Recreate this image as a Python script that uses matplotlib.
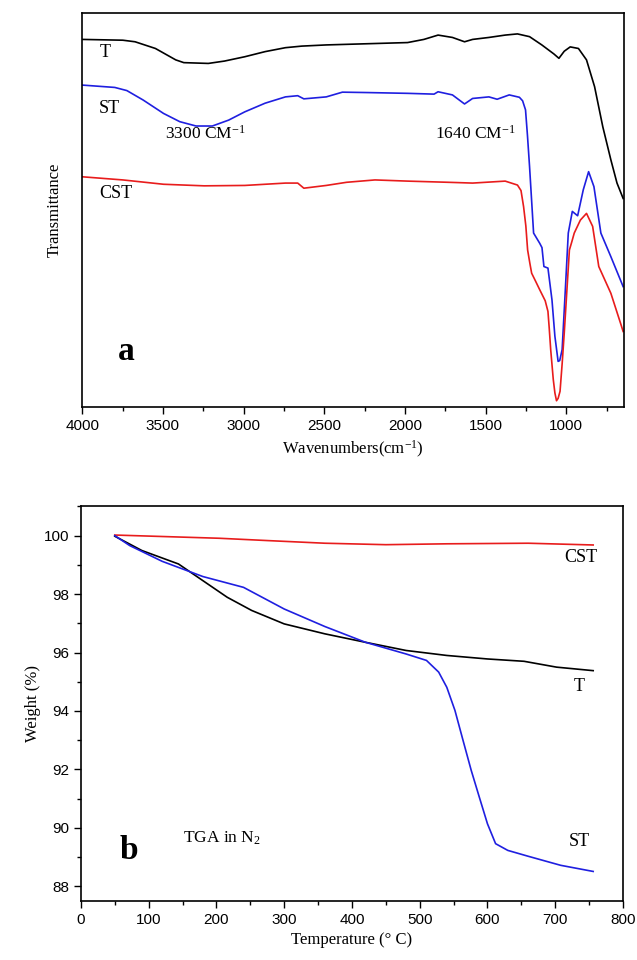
import matplotlib
matplotlib.use('Agg')
import matplotlib.pyplot as plt
from matplotlib.ticker import MultipleLocator

# ---- FTIR data (panel a), transmittance in arbitrary units ----
t_wn = [4000, 3748, 3672, 3546, 3420, 3370, 3218, 3118, 2992, 2866, 2740, 2639, 2487, 2235,
        1983, 1882, 1794, 1705, 1630, 1580, 1479, 1378, 1302, 1227, 1151, 1076, 1045, 1012,
        975, 924, 874, 824, 773, 723, 685, 647]
t_tr = [93.4, 93.2, 92.8, 91.1, 88.2, 87.5, 87.3, 87.9, 89.0, 90.3, 91.3, 91.7, 92.0, 92.3,
        92.6, 93.4, 94.5, 93.9, 92.8, 93.4, 93.9, 94.5, 94.8, 94.1, 92.0, 89.7, 88.6, 90.4,
        91.5, 91.1, 88.2, 81.4, 71.2, 62.8, 56.9, 53.0]

st_wn = [4000, 3798, 3723, 3622, 3496, 3395, 3294, 3193, 3092, 2992, 2866, 2740, 2664, 2626,
         2487, 2387, 2235, 1983, 1819, 1794, 1705, 1630, 1580, 1479, 1428, 1353, 1290, 1270,
         1252, 1240, 1227, 1202, 1164, 1150, 1138, 1113, 1088, 1070, 1050, 1040, 1025, 1005,
         987, 962, 929, 894, 861, 828, 785, 723, 647]
st_tr = [81.8, 81.2, 80.4, 78.0, 74.6, 72.5, 71.4, 71.4, 72.9, 75.0, 77.2, 78.8, 79.1, 78.3,
         78.8, 80.0, 79.9, 79.7, 79.5, 80.1, 79.3, 77.0, 78.4, 78.8, 78.2, 79.3, 78.7, 77.8,
         75.5, 69.0, 61.1, 44.2, 41.6, 40.5, 35.7, 35.3, 27.2, 18.0, 11.6, 11.8, 14.6, 30.0,
         44.2, 49.7, 48.6, 55.2, 59.8, 56.0, 44.2, 38.2, 30.6]

cst_wn = [4000, 3748, 3496, 3244, 2992, 2740, 2664, 2626, 2487, 2361, 2185, 1983, 1731, 1580,
          1378, 1302, 1280, 1264, 1250, 1239, 1225, 1214, 1190, 1164, 1130, 1113, 1105, 1096,
          1080, 1070, 1060, 1050, 1038, 1025, 1012, 995, 980, 965, 950, 912, 874, 836, 798,
          723, 660, 647]
cst_tr = [58.5, 57.7, 56.6, 56.2, 56.3, 56.9, 56.9, 55.6, 56.3, 57.1, 57.7, 57.4, 57.1, 56.9,
          57.4, 56.4, 55.0, 50.9, 46.0, 39.9, 36.5, 34.0, 32.0, 29.8, 27.0, 24.3, 20.0, 14.6,
          7.0, 3.6, 1.6, 2.2, 4.0, 11.0, 18.8, 30.0, 39.9, 42.0, 44.2, 47.5, 49.2, 45.9, 35.7,
          28.9, 20.9, 19.2]

# ---- TGA data (panel b) ----
tga_t_temp = [50, 90, 144, 180, 216, 252, 300, 360, 420, 480, 540, 600, 654, 702, 756]
tga_t_w = [99.98, 99.49, 99.03, 98.46, 97.89, 97.44, 96.98, 96.64, 96.35, 96.07, 95.90,
           95.78, 95.70, 95.50, 95.38]

tga_st_temp = [50, 72, 120, 180, 240, 300, 360, 420, 480, 510, 528, 540, 552, 564, 576, 588,
               600, 612, 630, 660, 708, 756]
tga_st_w = [100.0, 99.66, 99.12, 98.6, 98.23, 97.49, 96.89, 96.35, 95.95, 95.73, 95.33,
            94.81, 94.02, 92.99, 91.97, 91.05, 90.14, 89.46, 89.23, 89.03, 88.72, 88.51]

tga_cst_temp = [50, 120, 204, 276, 360, 450, 540, 660, 756]
tga_cst_w = [100.02, 99.97, 99.91, 99.83, 99.74, 99.69, 99.72, 99.74, 99.68]

serif = 'Liberation Serif'
sans = 'Liberation Sans'
plt.rcParams['font.family'] = sans
plt.rcParams['mathtext.fontset'] = 'custom'
plt.rcParams['mathtext.rm'] = serif
plt.rcParams['mathtext.it'] = serif + ':italic'
plt.rcParams['mathtext.bf'] = serif + ':bold'

fig = plt.figure(figsize=(6.37, 9.6), dpi=100)
ax1 = fig.add_axes([0.129, 0.576, 0.851, 0.410])
ax2 = fig.add_axes([0.127, 0.0615, 0.851, 0.411])

lw = 1.2
ax1.plot(t_wn, t_tr, color='black', lw=lw)
ax1.plot(st_wn, st_tr, color='#1f1fe0', lw=lw)
ax1.plot(cst_wn, cst_tr, color='#e81c1c', lw=lw)
ax1.set_xlim(4000, 640)
ax1.set_ylim(0, 100)
ax1.set_yticks([])
ax1.xaxis.set_major_locator(MultipleLocator(500))
ax1.xaxis.set_minor_locator(MultipleLocator(250))
ax1.set_xlabel(r'Wavenumbers(cm$^{\mathrm{-1}}$)', fontfamily=serif, fontsize=12)
ax1.set_ylabel('Transmittance', fontfamily=serif, fontsize=12, labelpad=14)

ax1.text(3858, 90.1, 'T', fontfamily=serif, fontsize=13, ha='center', va='center')
ax1.text(3830, 75.9, 'ST', fontfamily=serif, fontsize=13, ha='center', va='center')
ax1.text(3790, 54.3, 'CST', fontfamily=serif, fontsize=13, ha='center', va='center')
ax1.text(3234, 69.5, r'3300 CM$^{\mathrm{-1}}$', fontfamily=serif, fontsize=12.5,
         ha='center', va='center')
ax1.text(1562, 69.5, r'1640 CM$^{\mathrm{-1}}$', fontfamily=serif, fontsize=12.5,
         ha='center', va='center')
ax1.text(3725, 14, 'a', fontfamily=serif, fontsize=24, fontweight='bold', ha='center', va='center')

ax2.plot(tga_cst_temp, tga_cst_w, color='#e81c1c', lw=lw)
ax2.plot(tga_t_temp, tga_t_w, color='black', lw=lw)
ax2.plot(tga_st_temp, tga_st_w, color='#1f1fe0', lw=lw)
ax2.set_xlim(0, 800)
ax2.set_ylim(87.5, 101)
ax2.xaxis.set_major_locator(MultipleLocator(100))
ax2.xaxis.set_minor_locator(MultipleLocator(50))
ax2.yaxis.set_major_locator(MultipleLocator(2))
ax2.yaxis.set_minor_locator(MultipleLocator(1))
ax2.set_xlabel('Temperature (° C)', fontfamily=serif, fontsize=12)
ax2.set_ylabel('Weight (%)', fontfamily=serif, fontsize=12, labelpad=2)

ax2.text(738, 99.24, 'CST', fontfamily=serif, fontsize=13, ha='center', va='center')
ax2.text(735, 94.84, 'T', fontfamily=serif, fontsize=13, ha='center', va='center')
ax2.text(735, 89.55, 'ST', fontfamily=serif, fontsize=13, ha='center', va='center')
ax2.text(150, 89.63, r'TGA in N$_{\mathrm{2}}$', fontfamily=serif, fontsize=12.5,
         ha='left', va='center')
ax2.text(71, 89.23, 'b', fontfamily=serif, fontsize=24, fontweight='bold', ha='center', va='center')

for ax in (ax1, ax2):
    ax.tick_params(which='major', direction='out', length=5, width=1, labelsize=11)
    ax.tick_params(which='minor', direction='out', length=3, width=1)
    for s in ax.spines.values():
        s.set_linewidth(1.2)

fig.savefig('out.png', dpi=100)
